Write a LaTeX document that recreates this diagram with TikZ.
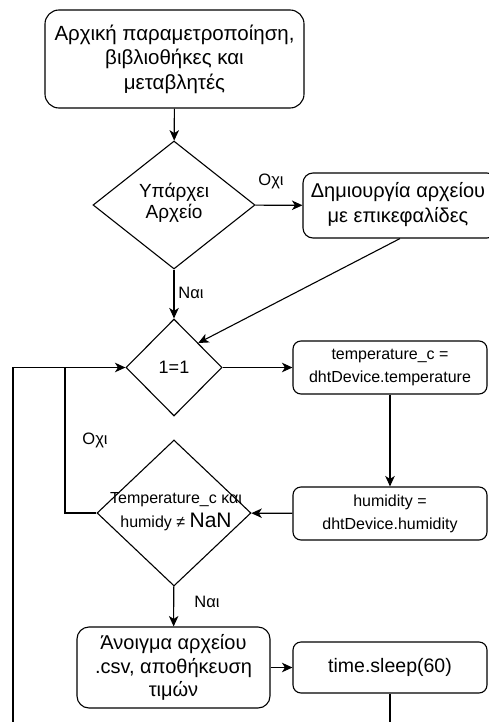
\documentclass[tikz,border=0pt]{standalone}
\usepackage{fontspec}
\setmainfont{Liberation Sans}
\usetikzlibrary{shapes.geometric,arrows.meta}
\begin{document}
\begin{tikzpicture}[x=1pt,y=-1pt,
  box/.style={draw, rounded corners=#1, inner sep=0pt, align=center, line width=1.1pt},
  dia/.style={draw, diamond, inner sep=0pt, line width=1.1pt},
  big/.style={font=\fontsize{19.5}{24}\selectfont},
  mid/.style={font=\fontsize{18}{21.5}\selectfont},
  small/.style={font=\fontsize{16}{23}\selectfont},
  lbl/.style={font=\fontsize{16.5}{18}\selectfont, inner sep=0pt},
  conn/.style={line width=1.1pt, -{Stealth[length=10.5pt,width=9.5pt,inset=3pt]}},
  plain/.style={line width=1.1pt}]
\useasboundingbox (0,0) rectangle (488,722);

% nodes
\node[box=14pt, font=\fontsize{20.5}{24.5}\selectfont, minimum width=259pt, minimum height=98pt] (b1) at (174.5,59)
  {Αρχική παραμετροποίηση,\\ βιβλιοθήκες και\\ μεταβλητές};
\node[dia, minimum width=162pt, minimum height=128pt] (d1) at (174,205) {};
\node[font=\fontsize{19}{21.5}\selectfont, align=center, inner sep=0pt] (d1t) at (174,203) {Υπάρχει\\ Αρχείο};
\node[draw, rounded corners=10pt, line width=1.1pt, minimum width=194pt, minimum height=65pt] (b2) at (400,205.5) {};
\node[font=\fontsize{20}{25}\selectfont, align=center, inner sep=0pt] (b2t) at (398,205) {Δημιουργία αρχείου\\ με επικεφαλίδες};
\node[dia, minimum width=96pt, minimum height=97pt] (d2) at (174,367.5) {};
\node[mid, inner sep=0pt] (d2t) at (174,367.5) {1=1};
\node[box=8pt, small, minimum width=194pt, minimum height=53pt] (b3) at (390,367.5)
  {temperature\_c =\\ dhtDevice.temperature};
\node[box=8pt, small, minimum width=194pt, minimum height=53pt] (b4) at (390,513.5)
  {humidity =\\ dhtDevice.humidity};
\node[dia, minimum width=154pt, minimum height=146pt] (d3) at (174,513) {};
\node[align=center, inner sep=0pt, font=\fontsize{16}{24}\selectfont] (d3t) at (176,512)
  {Temperature\_c και\\ humidy ≠ {\fontsize{21}{24}\selectfont NaN}};
\node[box=12pt, font=\fontsize{20}{23.5}\selectfont, minimum width=193pt, minimum height=81pt] (b5) at (173.5,667.5)
  {Άνοιγμα αρχείου\\ .csv, αποθήκευση\\ τιμών};
\node[box=8pt, big, minimum width=194pt, minimum height=51pt] (b6) at (390,667.5)
  {time.sleep(60)};

% labels
\node[lbl] (l1) at (271,181) {Οχι};
\node[lbl] (l2) at (191,293) {Ναι};
\node[lbl] (l3) at (95,440) {Οχι};
\node[lbl] (l4) at (207,602) {Ναι};

% helper coordinates
\coordinate (j) at (65,367.5);
\coordinate (ob) at (13,745);

% connectors
\draw[conn] (b1) -- (d1);
\draw[conn] (d1) -- (b2);
\draw[conn] (d1) -- (d2);
\draw[conn] (b2.south) -- (d2.north east);
\draw[conn] (d2) -- (b3);
\draw[conn] (b3) -- (b4);
\draw[conn] (b4) -- (d3);
\draw[conn] (d3) -- (b5);
\draw[conn] (b5) -- (b6);
\draw[plain] (d3.west) -| (j);
\draw[conn] (b6.south) |- (ob) |- (d2.west);
\end{tikzpicture}
\end{document}
